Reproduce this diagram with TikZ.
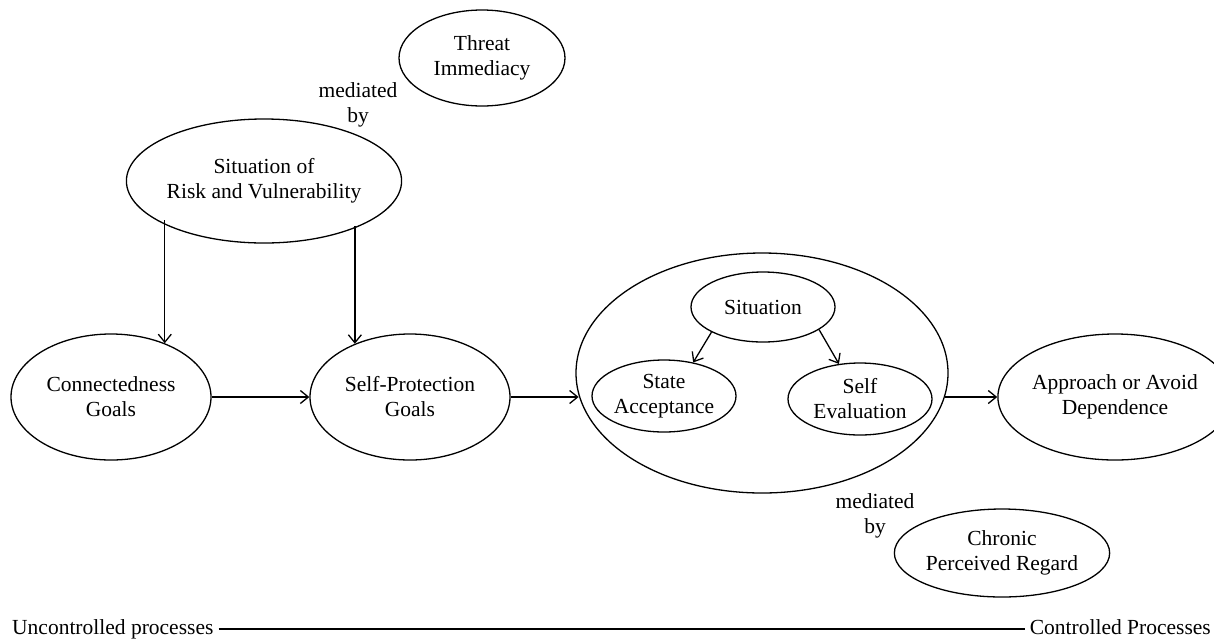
\documentclass[tikz,border=0pt]{standalone}
\usepackage{fontspec}
\setmainfont{Liberation Serif}
\usetikzlibrary{shapes.geometric,arrows.meta}
\tikzset{
  ell/.style={draw, ellipse, line width=1.3pt, inner sep=0pt, align=center, font=\fontsize{21.5}{25}\selectfont},
  lbl/.style={align=center, inner sep=0pt, font=\fontsize{21.5}{25}\selectfont},
  side/.style={inner sep=5pt, text height=14pt, text depth=4pt, font=\fontsize{21.5}{25}\selectfont},
  conn/.style={line width=1.3pt, -{Straight Barb[length=8pt,width=13pt,line width=1.3pt]}},
  plain/.style={line width=1.3pt}
}
\begin{document}
\begin{tikzpicture}[x=1pt,y=-1pt]
\useasboundingbox (0,0) rectangle (1214,638);
% nodes
\node[ell, minimum width=166pt, minimum height=96pt] (threat) at (482,58) {Threat\\Immediacy};
\node[lbl] (med1) at (358,105) {mediated\\by};
\node[ell, minimum width=246pt, minimum height=124pt] (risk) at (264,181) {Situation of\\Risk and Vulnerability};
\node[ell, minimum width=200pt, minimum height=126pt] (cg) at (111,397) {Connectedness\\Goals};
\node[ell, minimum width=200pt, minimum height=126pt] (sp) at (410,397) {Self-Protection\\Goals};
\node[ell, minimum width=372pt, minimum height=240pt] (big) at (762,373) {};
\node[ell, minimum width=144pt, minimum height=70pt] (sit) at (763,307) {Situation};
\node[ell, minimum width=144pt, minimum height=72pt] (acc) at (664,396) {State\\Acceptance};
\node[ell, minimum width=144pt, minimum height=72pt] (eval) at (860,399) {Self\\Evaluation};
\node[ell, minimum width=196pt, minimum height=126pt] (appr) at (1115,397) {Approach or Avoid\\Dependence};
\node[lbl] (med2) at (875,516) {mediated\\by};
\node[ell, minimum width=180pt, minimum height=88pt] (chron) at (1002,553) {Chronic\\Perceived Regard};
\node[side, anchor=base west] (unc) at (7,634) {Uncontrolled processes};
\node[side, anchor=base east] (ctl) at (1216,634) {Controlled Processes};
% connectors
\draw[conn] (cg.45 |- risk.200) -- (cg.45);
\draw[conn] (sp.136.6 |- risk.335) -- (sp.136.6);
\draw[conn] (cg.east) -- (sp.west);
\draw[conn] (sp.east) -- (big.187.5 |- sp.east);
\draw[conn] (big.-7.5 |- appr.west) -- (appr.west);
\draw[conn] (sit.206.6) -- (acc.49.5);
\draw[conn] (sit.338) -- (eval.121.4);
\draw[plain] (unc.east) -- (ctl.west);
\end{tikzpicture}
\end{document}
